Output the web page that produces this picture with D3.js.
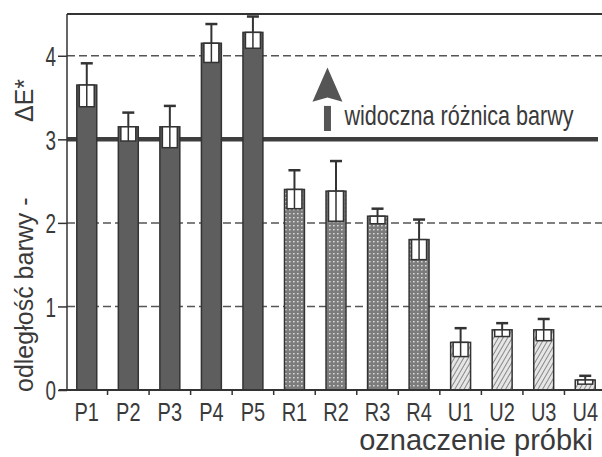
<!DOCTYPE html>
<html><head><meta charset="utf-8">
<script src="https://cdn.jsdelivr.net/npm/d3@7"></script>
<style>body{margin:0;background:#fff}text{font-family:"Liberation Sans",Arial,sans-serif;fill:#3a3a3a}</style>
</head><body>
<svg id="c" width="602" height="457"></svg>
<script>
const categories = ["P1","P2","P3","P4","P5","R1","R2","R3","R4","U1","U2","U3","U4"];
const groups     = ["P","P","P","P","P","R","R","R","R","U","U","U","U"];
const values     = [3.65,3.15,3.15,4.15,4.28,2.40,2.38,2.08,1.80,0.57,0.72,0.72,0.12];
const errors     = [0.26,0.17,0.25,0.23,0.19,0.23,0.36,0.09,0.24,0.17,0.08,0.13,0.05];
const yTicks     = [0,1,2,3,4];
const gridValues = [1,2,4];
const threshold  = 3;
const yLabel = "odległość barwy -";
const yLabel2 = "ΔE*";
const xLabel = "oznaczenie próbki";
const note = "widoczna różnica barwy";

const svg = d3.select("#c");
const m = {l:67, t:14, r:606, b:390};
const x = d3.scaleBand().domain(categories).range([m.l-1, m.r]).paddingInner(0.52).paddingOuter(0.26);
const y = d3.scaleLinear().domain([0,4.5]).range([m.b, m.t]);

function txt(px, py, s, size, sx, anchor){
  return svg.append("text").attr("transform",`translate(${px},${py}) scale(${sx},1)`)
    .attr("text-anchor",anchor||"start").style("font-size",size+"px").text(s);
}

const defs = svg.append("defs");
const dots = defs.append("pattern").attr("id","dots").attr("patternUnits","userSpaceOnUse").attr("width",4).attr("height",4);
dots.append("rect").attr("width",4).attr("height",4).attr("fill","#7c7c7c");
dots.append("rect").attr("x",1).attr("y",1).attr("width",1.6).attr("height",1.4).attr("fill","#dcdcdc");
const hatch = defs.append("pattern").attr("id","hatch").attr("patternUnits","userSpaceOnUse").attr("width",4).attr("height",4).attr("patternTransform","rotate(30)");
hatch.append("rect").attr("width",4).attr("height",4).attr("fill","#e6e6e6");
hatch.append("line").attr("x1",0).attr("y1",0).attr("x2",0).attr("y2",4).attr("stroke","#707070").attr("stroke-width",1.6);
const fills = {P:"#5e5e5e", R:"url(#dots)", U:"url(#hatch)"};

// grid lines
svg.append("g").selectAll("line").data(gridValues).join("line")
  .attr("x1",m.l).attr("x2",602).attr("y1",d=>y(d)).attr("y2",d=>y(d))
  .attr("stroke","#555").attr("stroke-width",1.5).attr("stroke-dasharray","8,4");

// top frame
svg.append("line").attr("x1",m.l).attr("x2",602).attr("y1",m.t).attr("y2",m.t).attr("stroke","#333").attr("stroke-width",2);

// threshold
svg.append("line").attr("x1",m.l).attr("x2",598).attr("y1",y(threshold)).attr("y2",y(threshold))
  .attr("stroke","#3e3e3e").attr("stroke-width",4.5);

// bars
const bw = x.bandwidth();
const bars = svg.append("g");
categories.forEach((c,i)=>{
  const x0 = x(c), v = values[i], e = errors[i];
  bars.append("rect").attr("x",x0).attr("y",y(v)).attr("width",bw).attr("height",y(0)-y(v))
    .attr("fill",fills[groups[i]]).attr("stroke","#333").attr("stroke-width",1.5);
  const cx = x0+bw/2;
  bars.append("line").attr("x1",cx).attr("x2",cx).attr("y1",y(v)).attr("y2",y(v+e)).attr("stroke","#333").attr("stroke-width",2);
  bars.append("line").attr("x1",cx-6).attr("x2",cx+6).attr("y1",y(v+e)).attr("y2",y(v+e)).attr("stroke","#333").attr("stroke-width",2.5);
  bars.append("rect").attr("x",x0+2.5).attr("y",y(v)).attr("width",bw-5).attr("height",y(v-e)-y(v))
    .attr("fill","#fff").attr("stroke","#333").attr("stroke-width",1.5);
  bars.append("line").attr("x1",cx).attr("x2",cx).attr("y1",y(v)).attr("y2",y(v-e)).attr("stroke","#333").attr("stroke-width",1.5);
});

// axes
svg.append("line").attr("x1",m.l).attr("x2",m.l).attr("y1",m.t).attr("y2",m.b).attr("stroke","#333").attr("stroke-width",1.5);
svg.append("line").attr("x1",m.l-8).attr("x2",602).attr("y1",m.b).attr("y2",m.b).attr("stroke","#333").attr("stroke-width",2);
const ysx = 0.7;
const yg = svg.append("g").attr("transform",`translate(${m.l},0)`)
  .call(d3.axisLeft(y).tickValues(yTicks).tickFormat(d3.format("d")).tickSize(9).tickPadding(2));
yg.select(".domain").remove();
yg.selectAll("line").attr("stroke","#333").attr("stroke-width",1.5);
yg.selectAll("text").attr("x",-11/ysx).attr("dy","0.36em").attr("transform",`scale(${ysx},1)`)
  .style("font-size","27px").attr("fill","#3a3a3a");

// x ticks between bands
const step = x.step();
const bounds = categories.slice(1).map(c=>x(c)-(step-bw)/2);
svg.append("g").selectAll("line").data(bounds).join("line")
  .attr("x1",d=>d).attr("x2",d=>d).attr("y1",m.b).attr("y2",m.b+5).attr("stroke","#333").attr("stroke-width",1.5);
categories.forEach(c=>txt(x(c)+bw/2, 421, c, 25, 0.8, "middle"));

txt(593, 450, xLabel, 29, 1, "end");

// y label
svg.append("text").attr("transform","translate(33,392) rotate(-90)").style("font-size","25px").text(yLabel);
svg.append("text").attr("transform","translate(33,122) rotate(-90)").style("font-size","25px").text(yLabel2);

// arrow
const ax = x("R1")+bw/2+33;
svg.append("line").attr("x1",ax).attr("x2",ax).attr("y1",y(3.1)).attr("y2",y(3.4)).attr("stroke","#555").attr("stroke-width",7);
svg.append("path").attr("d",`M${ax},${y(3.86)} L${ax-15},${y(3.45)} L${ax},${y(3.5)} L${ax+15},${y(3.45)} Z`).attr("fill","#555");
txt(ax+17, y(3.17), note, 27, 0.8, "start");
</script>
</body></html>
